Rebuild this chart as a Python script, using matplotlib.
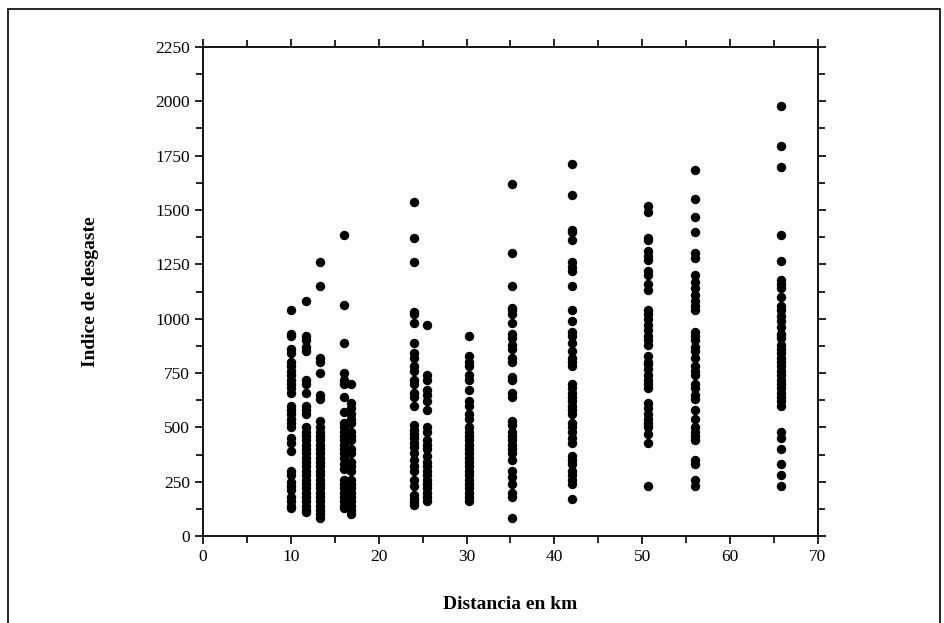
import matplotlib.pyplot as plt
from matplotlib.patches import Rectangle
from matplotlib.ticker import MultipleLocator

# distancia (km) de cada columna de puntos y sus valores del indice
distancias = [10, 11.7, 13.3, 16, 16.8, 24, 25.5, 30.3, 35.2, 42, 50.6, 56, 65.8]

indices = [
    [1040, 930, 920, 860, 840, 800, 780, 760, 740, 720, 700, 680, 660, 600, 580,
     560, 540, 520, 500, 450, 430, 390, 300, 280, 250, 230, 210, 180, 160, 140, 130],
    [1080, 920, 900, 870, 850, 720, 700, 660, 600, 580, 560, 500, 480, 460, 440,
     420, 400, 380, 360, 340, 320, 300, 280, 260, 240, 220, 200, 180, 160, 140, 120, 110],
    [1260, 1150, 820, 800, 750, 650, 630, 530, 500, 480, 460, 440, 420, 400, 380,
     360, 340, 320, 300, 280, 260, 240, 220, 200, 180, 160, 140, 120, 100, 85],
    [1385, 1065, 890, 750, 720, 700, 640, 570, 520, 500, 480, 460, 440, 420, 400,
     380, 360, 330, 310, 260, 240, 220, 200, 180, 160, 140, 130],
    [700, 610, 590, 560, 540, 520, 480, 460, 440, 400, 380, 340, 320, 300, 260,
     240, 220, 200, 180, 160, 140, 120, 100],
    [1535, 1370, 1260, 1030, 1020, 980, 890, 840, 820, 780, 760, 720, 700, 660, 640,
     600, 510, 490, 470, 450, 430, 410, 380, 350, 320, 300, 260, 230, 190, 170, 155, 145],
    [970, 740, 720, 670, 650, 620, 580, 500, 480, 440, 420, 400, 370, 340, 320,
     300, 280, 260, 240, 220, 200, 180, 160],
    [920, 830, 800, 780, 740, 720, 670, 620, 600, 560, 540, 500, 480, 460, 440,
     420, 400, 380, 360, 340, 320, 300, 280, 260, 240, 220, 200, 180, 160],
    [1620, 1300, 1150, 1050, 1040, 1020, 980, 930, 910, 880, 860, 820, 800, 730, 720,
     660, 640, 530, 510, 480, 460, 440, 420, 400, 380, 350, 300, 270, 240, 200, 180, 85],
    [1710, 1570, 1410, 1400, 1360, 1260, 1240, 1220, 1150, 1040, 990, 940, 920, 890,
     850, 820, 800, 780, 700, 680, 660, 640, 620, 600, 580, 560, 520, 500, 480, 450,
     430, 370, 350, 330, 300, 280, 260, 240, 170],
    [1520, 1490, 1370, 1360, 1310, 1290, 1270, 1220, 1200, 1160, 1130, 1040, 1020,
     1000, 970, 950, 920, 900, 880, 830, 800, 790, 770, 740, 720, 700, 680, 610, 590,
     560, 540, 520, 500, 470, 430, 230],
    [1685, 1550, 1470, 1400, 1300, 1280, 1200, 1170, 1140, 1110, 1080, 1060, 1040,
     940, 920, 900, 870, 850, 820, 780, 760, 740, 700, 680, 650, 630, 580, 540, 500,
     480, 460, 440, 350, 330, 260, 230],
    [1980, 1795, 1700, 1385, 1265, 1180, 1160, 1140, 1100, 1060, 1040, 1010, 990, 960,
     930, 910, 880, 860, 840, 820, 800, 780, 760, 740, 720, 700, 680, 660, 640, 620,
     600, 480, 450, 400, 330, 280, 230],
]

plt.rcParams['font.family'] = ['Liberation Serif', 'DejaVu Serif']

fig = plt.figure(figsize=(9.45, 6.23), dpi=100)
ax = fig.add_axes([0.2148, 0.1396, 0.6508, 0.785])

for d, vals in zip(distancias, indices):
    ax.scatter([d] * len(vals), vals, s=46, color='black', linewidths=0, zorder=3)

ax.set_xlim(0, 70)
ax.set_ylim(0, 2250)
ax.xaxis.set_major_locator(MultipleLocator(10))
ax.xaxis.set_minor_locator(MultipleLocator(5))
ax.yaxis.set_major_locator(MultipleLocator(250))
ax.yaxis.set_minor_locator(MultipleLocator(125))
ax.tick_params(which='both', direction='out', top=True, right=True,
               labelsize=12.5, width=1.2)
ax.tick_params(which='major', length=6)
ax.tick_params(which='minor', length=5)
for s in ax.spines.values():
    s.set_linewidth(1.3)

ax.set_xlabel('Distancia en km', fontsize=14, fontweight='bold', labelpad=22)
ax.set_ylabel('Indice de desgaste', fontsize=14, fontweight='bold', labelpad=40)

# marco exterior
fig.patches.append(Rectangle((0.008, -0.01), 0.987, 0.996, transform=fig.transFigure,
                             fill=False, edgecolor='black', linewidth=1.2))

fig.savefig('out.png', dpi=100)
